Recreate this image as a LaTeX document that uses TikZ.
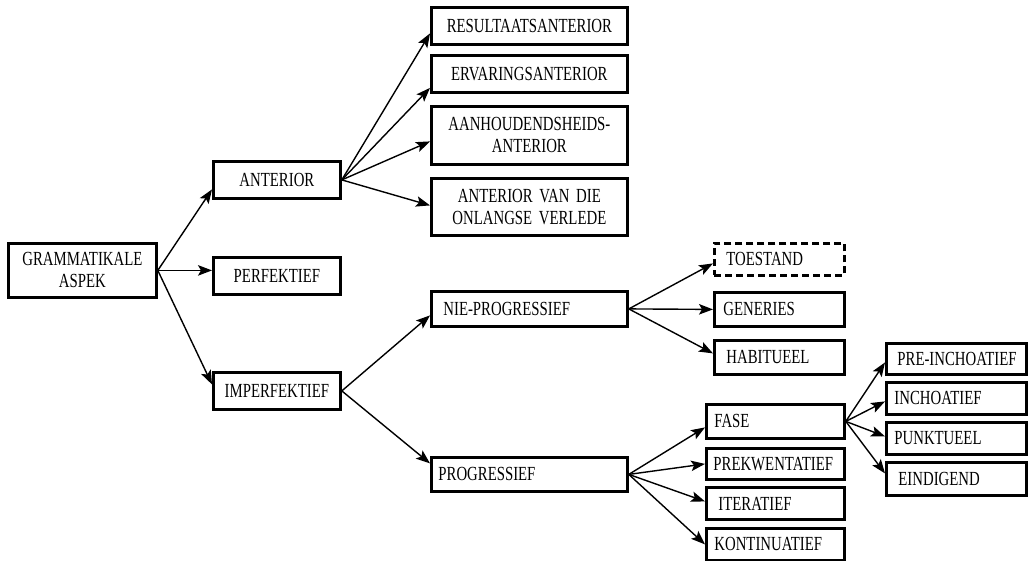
\documentclass[tikz,border=0pt]{standalone}
\usepackage{fontspec}
\setmainfont{Liberation Serif}[FakeStretch=0.74]
\usetikzlibrary{arrows.meta}
\newcommand\fs{\fontsize{20pt}{22pt}\selectfont\spaceskip=3.6pt\relax\hyphenpenalty=10000\exhyphenpenalty=10000}
\tikzset{
  box/.style={draw, line width=2.8pt, anchor=north west, inner ysep=0pt, font=\fs},
  cbox/.style={box, inner xsep=0pt, align=center},
  lbox/.style={box, align=left},
  arr/.style={-{Stealth[length=14pt,width=10.5pt,inset=3pt]}, line width=1.4pt}
}
\begin{document}
\begin{tikzpicture}[x=1pt,y=-1pt]
\useasboundingbox (0,0) rectangle (1030,560);
% level 0/1
\node[cbox, text width=148pt, minimum height=54pt] (ga) at (7,242) {GRAMMATIKALE\\ASPEK};
\node[cbox, text width=127pt, minimum height=37pt] (ant) at (212,160) {ANTERIOR};
\node[cbox, text width=127pt, minimum height=37pt] (perf) at (212,256) {PERFEKTIEF};
\node[cbox, text width=127pt, minimum height=37pt] (imp) at (212,371) {IMPERFEKTIEF};
% anterior children
\node[cbox, text width=196pt, minimum height=37pt] (res) at (430,6) {RESULTAATSANTERIOR};
\node[cbox, text width=196pt, minimum height=37pt] (erv) at (430,54) {ERVARINGSANTERIOR};
\node[cbox, text width=196pt, minimum height=58pt] (aan) at (430,105) {AANHOUDENDSHEIDS-\\ANTERIOR};
\node[cbox, text width=196pt, minimum height=57pt] (avd) at (430,177) {ANTERIOR VAN DIE\\ONLANGSE VERLEDE};
% imperfektief children
\node[lbox, inner xsep=12pt, text width=172pt, minimum height=35pt] (nie) at (430,290) {NIE-PROGRESSIEF};
\node[lbox, inner xsep=7pt, text width=182pt, minimum height=34pt] (prog) at (430,456) {PROGRESSIEF};
% nie-progressief children
\node[lbox, dash pattern=on 7pt off 4pt, inner xsep=12pt, text width=106pt, minimum height=32pt] (toe) at (713,242) {TOESTAND};
\node[lbox, inner xsep=9pt, text width=112pt, minimum height=34pt] (gen) at (713,291) {GENERIES};
\node[lbox, inner xsep=12pt, text width=106pt, minimum height=34pt] (hab) at (713,339) {HABITUEEL};
% progressief children
\node[lbox, inner xsep=8pt, text width=122pt, minimum height=34pt] (fase) at (705,403) {FASE};
\node[lbox, inner xsep=7pt, text width=124pt, minimum height=31pt] (prek) at (705,447) {PREKWENTATIEF};
\node[lbox, inner xsep=12pt, text width=114pt, minimum height=32pt] (iter) at (705,486) {ITERATIEF};
\node[lbox, inner xsep=8pt, text width=122pt, minimum height=32pt] (kont) at (705,527) {KONTINUATIEF};
% fase children
\node[lbox, inner xsep=11pt, text width=118pt, minimum height=31pt] (prei) at (885,342) {PRE-INCHOATIEF};
\node[lbox, inner xsep=8pt, text width=124pt, minimum height=32pt] (inch) at (885,381) {INCHOATIEF};
\node[lbox, inner xsep=8pt, text width=124pt, minimum height=32pt] (punk) at (885,421) {PUNKTUEEL};
\node[lbox, inner xsep=12pt, text width=116pt, minimum height=33pt] (eind) at (885,461) {EINDIGEND};
% connectors
\draw[arr] (ga.east) -- ([yshift=-9.5pt]ant.west);
\draw[arr] (ga.east) -- (ga.east -| perf.west);
\draw[arr] (ga.east) -- ([yshift=6.5pt]imp.west);
\draw[arr] (ant.east) -- ([yshift=-7.5pt]res.west);
\draw[arr] (ant.east) -- ([yshift=-14pt]erv.west);
\draw[arr] (ant.east) -- ([yshift=-6pt]aan.west);
\draw[arr] (ant.east) -- ([yshift=1.5pt]avd.west);
\draw[arr] (imp.east) -- ([yshift=-6.5pt]nie.west);
\draw[arr] (imp.east) -- ([yshift=11pt]prog.west);
\draw[arr] (nie.east) -- ([yshift=-4pt]toe.west);
\draw[arr] (nie.east) -- (gen.west);
\draw[arr] (nie.east) -- ([yshift=4pt]hab.west);
\draw[arr] (prog.east) -- ([yshift=-6pt]fase.west);
\draw[arr] (prog.east) -- (prek.west);
\draw[arr] (prog.east) -- ([yshift=2pt]iter.west);
\draw[arr] (prog.east) -- (kont.west);
\draw[arr] (fase.east) -- ([yshift=-3.5pt]prei.west);
\draw[arr] (fase.east) -- ([yshift=-3pt]inch.west);
\draw[arr] (fase.east) -- ([yshift=2pt]punk.west);
\draw[arr] (fase.east) -- ([yshift=5.5pt]eind.west);
\end{tikzpicture}
\end{document}
